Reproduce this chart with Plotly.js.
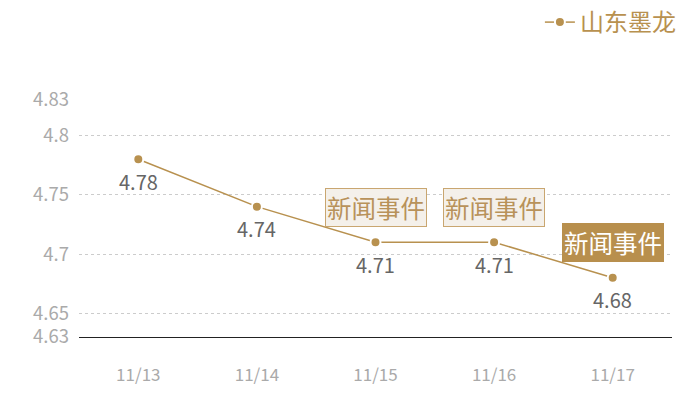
<!DOCTYPE html>
<html>
<head>
<meta charset="utf-8">
<script src="https://cdn.plot.ly/plotly-3.0.1.min.js"></script>
<style>
  html, body { margin: 0; padding: 0; background: #fff; }
  #chart { width: 700px; height: 400px; }
</style>
</head>
<body>
<div id="chart"></div>
<script>
const seriesName = '山东墨龙'
const dates = ['11/13', '11/14', '11/15', '11/16', '11/17']
const prices = [4.78, 4.74, 4.71, 4.71, 4.68]
const yTicks = [4.63, 4.65, 4.7, 4.75, 4.8, 4.83]
const eventDates = ['11/15', '11/16', '11/17']
const eventText = '新闻事件'

const gold = '#b8914f'
const font = '"Noto Sans CJK SC", "Noto Sans", sans-serif'

const trace = {
  x: dates,
  y: prices,
  name: seriesName,
  type: 'scatter',
  mode: 'lines+markers',
  line: { color: gold, width: 1.5 },
  marker: { color: gold, size: 10, line: { color: '#fff', width: 2 } },
  cliponaxis: false,
}

// value labels under each point
const valueLabels = dates.map((d, i) => ({
  x: d,
  y: prices[i],
  xref: 'x',
  yref: 'y',
  text: prices[i].toFixed(2),
  showarrow: false,
  yshift: -22,
  font: { size: 20, color: '#666', family: font },
}))

// last event is highlighted, the others are light
const eventBoxes = eventDates.map((d, i) => {
  const last = i === eventDates.length - 1
  return {
    x: d,
    y: prices[dates.indexOf(d)],
    xref: 'x',
    yref: 'y',
    text: eventText,
    showarrow: false,
    yshift: 35,
    font: { size: 24.5, color: last ? '#fff' : '#b8925a', family: font },
    bgcolor: last ? '#b88f4d' : '#f4f0ea',
    bordercolor: last ? '#b88f4d' : '#c9a670',
    borderwidth: 1,
    borderpad: 1,
  }
})

const layout = {
  width: 700,
  height: 400,
  margin: { l: 79, r: 28, t: 100, b: 63 },
  paper_bgcolor: '#fff',
  plot_bgcolor: '#fff',
  font: { family: font },
  showlegend: true,
  legend: {
    x: 1.015, xanchor: 'right',
    yref: 'container',
    y: 1, yanchor: 'top',
    font: { size: 24, color: gold, family: font },
    bgcolor: 'rgba(0,0,0,0)',
  },
  xaxis: {
    type: 'category',
    range: [-0.5, 4.5],
    showgrid: false,
    zeroline: false,
    showline: true,
    linecolor: '#222',
    linewidth: 1,
    ticks: '',
    ticklabelstandoff: 23,
    tickfont: { size: 17, color: '#aaa', family: font },
  },
  yaxis: {
    range: [4.63, 4.83],
    tickvals: yTicks,
    ticktext: yTicks.map(String),
    showgrid: true,
    gridcolor: '#ccc',
    griddash: 'dot',
    gridwidth: 1,
    zeroline: false,
    showline: false,
    ticks: '',
    ticklabelstandoff: 9,
    tickfont: { size: 18.5, color: '#aaa', family: font },
  },
  annotations: valueLabels.concat(eventBoxes),
}

Plotly.newPlot('chart', [trace], layout, { displayModeBar: false, staticPlot: true })
</script>
</body>
</html>
